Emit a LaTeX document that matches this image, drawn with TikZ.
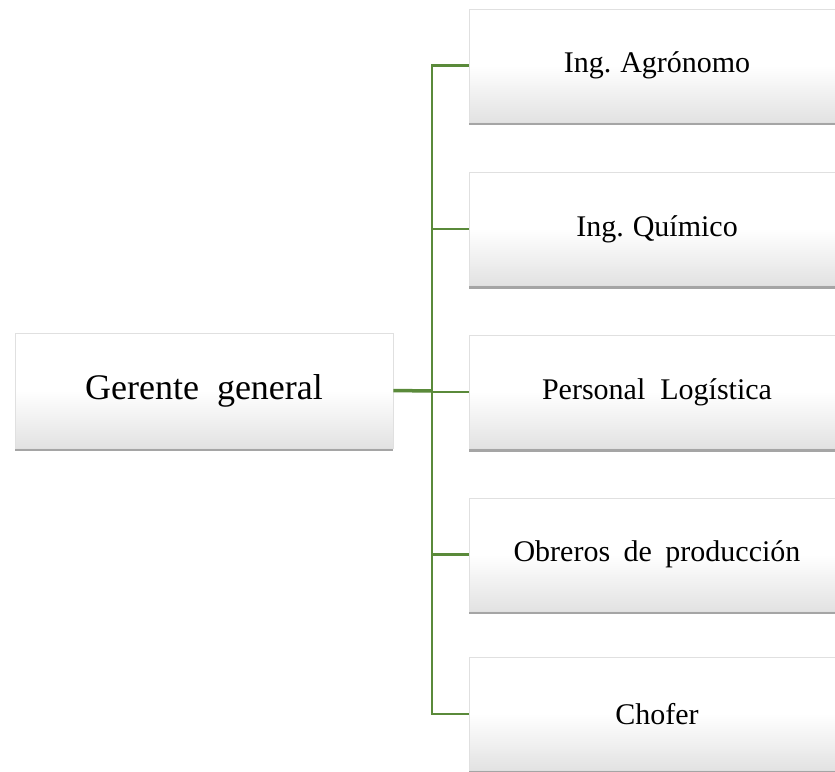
\documentclass[tikz,border=0pt]{standalone}
\usepackage{fontspec}
\setmainfont{Liberation Serif}
\usetikzlibrary{shadows}
\definecolor{lineg}{RGB}{90,138,58}
\definecolor{boxbot}{RGB}{226,226,226}
\pgfdeclareverticalshading{boxshade}{100bp}{color(0bp)=(boxbot); color(25bp)=(boxbot); color(50bp)=(white); color(100bp)=(white)}
\tikzset{
  box/.style={draw=black!12, line width=0.6pt, inner sep=0pt, shading=boxshade,
    drop shadow={shadow xshift=0pt, shadow yshift=-3pt, opacity=0.5, fill=black!70}},
  rbox/.style={box, minimum width=376pt, minimum height=113pt, font=\fontsize{30}{36}\selectfont},
  gbox/.style={box, minimum width=378pt, minimum height=115pt, font=\fontsize{36}{42}\selectfont},
  conn/.style={draw=lineg, line width=2.2pt},
  mainconn/.style={draw=lineg, line width=3.5pt}
}
\begin{document}
\begin{tikzpicture}[x=1pt,y=-1pt]
\clip (0,0) rectangle (835,771);
\fill[white] (0,0) rectangle (835,771);
\coordinate (bus) at (432,391);
\path (204,390.5) node[gbox] (g) {Gerente\ \ general};
\path (657,65.5) node[rbox] (b1) {Ing.\hspace{0.3em}Agrónomo};
\path (657,229) node[rbox] (b2) {Ing.\hspace{0.3em}Químico};
\path (657,392) node[rbox] (b3) {Personal\ \ Logística};
\path (657,554.5) node[rbox] (b4) {Obreros\hspace{0.45em}de\hspace{0.45em}producción};
\path (657,714) node[rbox] (b5) {Chofer};
\draw[conn] (b1.west) -| (bus);
\draw[conn] (b2.west) -| (bus);
\draw[conn] (b3.west) -| (bus);
\draw[conn] (b4.west) -| (bus);
\draw[conn] (b5.west) -| (bus);
\draw[mainconn] (g.east) -- (bus);
\end{tikzpicture}
\end{document}
